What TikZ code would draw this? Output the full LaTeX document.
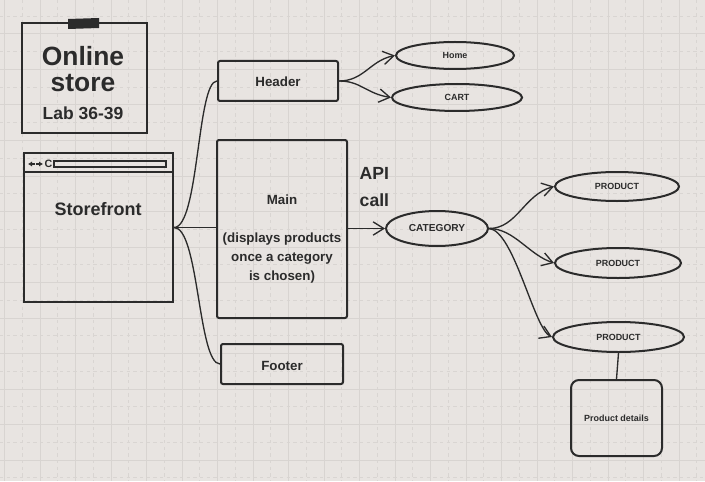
\documentclass[tikz,border=0pt]{standalone}
\usepackage{fontspec}
\setmainfont{Liberation Sans}
\usetikzlibrary{shapes.geometric,arrows.meta}
\definecolor{paper}{HTML}{E8E4E1}
\definecolor{gridline}{HTML}{D8D4D1}
\definecolor{griddash}{HTML}{D9D5D2}
\definecolor{ink}{HTML}{2B2B2B}
\begin{document}
\begin{tikzpicture}[x=0.75pt,y=0.75pt,yscale=-1,
  sketchbox/.style={draw=ink,line width=1.5pt,rectangle,rounded corners=1.5pt,inner sep=0pt},
  oval/.style={draw=ink,line width=1.5pt,ellipse,inner sep=0pt,font=\bfseries\fontsize{6.7}{8}\selectfont,text=ink},
  label/.style={text=ink,font=\bfseries\fontsize{10}{14.25}\selectfont,align=center},
  wire/.style={draw=ink,line width=1pt},
  arr/.style={wire,-{Straight Barb[length=8pt,width=10pt,line width=1pt]}}]
\useasboundingbox (0,0) rectangle (705,481);

%Background grid
\fill[paper] (0,0) rectangle (705,481);
\foreach \gx in {22.25,57.75,...,705} \draw[griddash,line width=0.6pt,dash pattern={on 2.5pt off 2.5pt}] (\gx,0) -- (\gx,481);
\foreach \gy in {16.25,51.75,...,481} \draw[griddash,line width=0.6pt,dash pattern={on 2.5pt off 2.5pt}] (0,\gy) -- (705,\gy);
\foreach \gx in {4.5,40,...,705} \draw[gridline,line width=0.75pt] (\gx,0) -- (\gx,481);
\foreach \gy in {-1.5,34,...,481} \draw[gridline,line width=0.75pt] (0,\gy) -- (705,\gy);

%Shape: Note with tape
\node[sketchbox,rounded corners=0pt,minimum width=93.75pt,minimum height=82.5pt] (note) at (84.5,78) {};
\fill[ink] (68,19) -- (99,18) -- (99,28) -- (68,29) -- cycle;
\node[text=ink,font=\bfseries\fontsize{19.8}{20}\selectfont,align=center] (title) at (83,69) {Online\\store};
\node[text=ink,font=\bfseries\fontsize{13.1}{15}\selectfont] (lab) at (83,113.5) {Lab 36-39};

%Shape: Browser window
\node[sketchbox,rounded corners=0pt,minimum width=111.75pt,minimum height=111.75pt] (sf) at (98.5,227.5) {};
\draw[ink,line width=1.5pt] (sf.north west) ++(0,20) -- ++(149,0);
\draw[ink,line width=1.2pt] (54,161) rectangle (166,167);
\draw[ink,line width=1.3pt,-{Latex[length=3pt,width=4pt]}] (35,164) -- (28,164);
\draw[ink,line width=1.3pt,-{Latex[length=3pt,width=4pt]}] (36,164) -- (43,164);
\node[text=ink,font=\bfseries\fontsize{8}{8}\selectfont,inner sep=0pt] (reload) at (48.5,164) {C};
\node[text=ink,font=\bfseries\fontsize{13.5}{15}\selectfont] (sftext) at (98,209.5) {Storefront};

%Shape: Boxes
\node[sketchbox,minimum width=90pt,minimum height=30pt,label] (hd) at (278,81) {};
\node[label] (hdtext) at (278,82) {Header};
\node[sketchbox,minimum width=97.5pt,minimum height=133.5pt] (mn) at (282,229) {};
\node[label] (mntext) at (282,239.5) {Main\\[\baselineskip](displays products\\once a category\\is chosen)};
\node[sketchbox,minimum width=91.5pt,minimum height=30pt] (ft) at (282,364) {};
\node[label] (fttext) at (282,365.5) {Footer};
\node[text=ink,font=\bfseries\fontsize{13.2}{20}\selectfont,align=left,anchor=west] (api) at (355,187) {API\\call};

%Shape: Ellipses
\node[oval,minimum width=88.5pt,minimum height=20.25pt] (home) at (455,55.5) {Home};
\node[oval,minimum width=97.5pt,minimum height=20.25pt] (cart) at (457,97.5) {CART};
\node[oval,minimum width=76.5pt,minimum height=26.25pt,font=\bfseries\fontsize{7.6}{9}\selectfont] (cat) at (437,228.5) {CATEGORY};
\node[oval,minimum width=93pt,minimum height=21.75pt] (p1) at (617,186.5) {PRODUCT};
\node[oval,minimum width=94.5pt,minimum height=22.5pt] (p2) at (618,263) {PRODUCT};
\node[oval,minimum width=98.25pt,minimum height=22.5pt] (p3) at (618.5,337) {PRODUCT};
\node[sketchbox,rounded corners=6pt,minimum width=68.25pt,minimum height=57pt,text=ink,font=\bfseries\fontsize{6.7}{8}\selectfont] (det) at (616.5,418) {Product details};

%Connectors
\draw[wire] (sf.east) .. controls +(25,0) and +(-20,0) .. (hd.west);
\draw[wire] (sf.east) -- (mn.west |- sf.east);
\draw[wire] (sf.east) .. controls +(25,0) and +(-22,0) .. (ft.west);
\draw[arr] (hd.east) .. controls +(25,0) and +(-25,5) .. (home.west);
\draw[arr] (hd.east) .. controls +(22,0) and +(-25,-4) .. (cart.west);
\draw[arr] (mn.east |- cat.west) -- (cat.west);
\draw[arr] (cat.east) .. controls +(28,0) and +(-30,8) .. (p1.west);
\draw[arr] (cat.east) .. controls +(25,0) and +(-25,-8) .. (p2.west);
\draw[arr] (cat.east) .. controls +(25,2) and +(-18,-8) .. (p3.west);
\draw[wire] (p3.south) -- (det.north);

\end{tikzpicture}
\end{document}
